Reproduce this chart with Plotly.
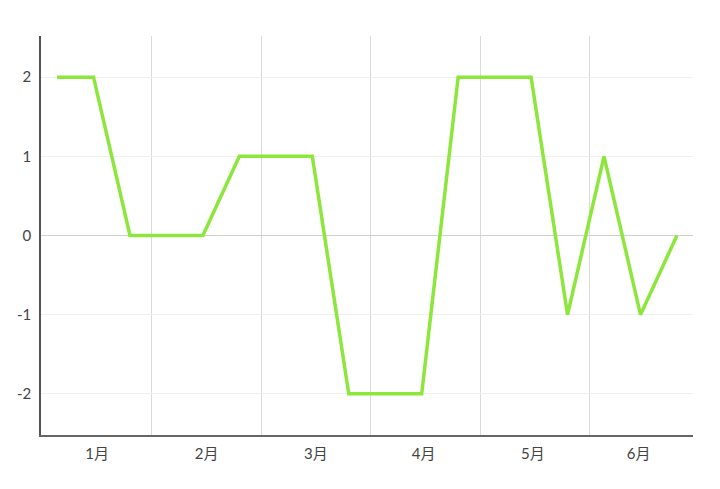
import plotly.graph_objects as go

months = ["1月", "2月", "3月", "4月", "5月", "6月"]
values = [2, 2, 0, 0, 0, 1, 1, 1, -2, -2, -2, 2, 2, 2, -1, 1, -1, 0]
x_idx = list(range(len(values)))
month_tick_pos = [1.1, 4.1, 7.1, 10.05, 13.05, 15.95]
month_boundaries = [2.6, 5.6, 8.6, 11.6, 14.6]
y_ticks = [-2, -1, 0, 1, 2]

fig = go.Figure()
fig.add_trace(go.Scatter(
    x=x_idx, y=values, mode="lines",
    line=dict(color="#8de63c", width=3.5),
    hoverinfo="skip",
))

fig.update_layout(
    width=712, height=481,
    margin=dict(l=33, r=27, t=28, b=54, autoexpand=False),
    paper_bgcolor="white", plot_bgcolor="white",
    showlegend=False,
    font=dict(family="Lato, 'Noto Sans CJK SC', sans-serif", size=15, color="#444444"),
)
fig.update_xaxes(
    range=[-0.44, 17.44],
    tickvals=month_tick_pos, ticktext=months,
    showgrid=False, zeroline=False, automargin=False,
    showline=True, linecolor="#666666", linewidth=1.5,
    ticks="", ticklabelstandoff=4,
    minor=dict(tickvals=month_boundaries, showgrid=True, gridcolor="#dadada", gridwidth=1),
)
fig.update_yaxes(
    range=[-2.52, 2.52],
    tickvals=y_ticks, ticktext=[str(v) for v in y_ticks],
    showgrid=True, gridcolor="#f0f0f0", gridwidth=1,
    zeroline=True, zerolinecolor="#d0d0d0", zerolinewidth=1, automargin=False,
    showline=True, linecolor="#555555", linewidth=1.5,
    ticks="", ticklabelstandoff=5,
)

fig.write_html("out.html")
